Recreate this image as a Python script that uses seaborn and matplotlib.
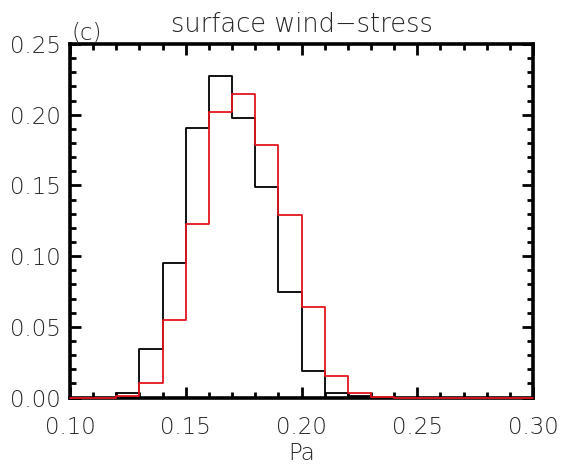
import numpy as np
import pandas as pd
import matplotlib
matplotlib.use("Agg")
import matplotlib.pyplot as plt
import seaborn as sns
from matplotlib.ticker import MultipleLocator

# Bin edges (Pa) and relative frequencies per 0.01 Pa bin
bin_edges = [round(0.10 + 0.01 * i, 2) for i in range(21)]
freq_black = [0.0, 0.0, 0.0033, 0.0346, 0.0951, 0.1904, 0.2274, 0.1977, 0.1487, 0.0746,
              0.0185, 0.0035, 0.0012, 0.0, 0.0, 0.0, 0.0, 0.0, 0.0, 0.0]
freq_red = [0.0, 0.0, 0.0010, 0.0103, 0.0546, 0.1229, 0.2017, 0.2147, 0.1787, 0.1292,
            0.0640, 0.0150, 0.0033, 0.0005, 0.0, 0.0, 0.0, 0.0, 0.0, 0.0]
x_ticks = [0.10, 0.15, 0.20, 0.25, 0.30]
y_ticks = [0.00, 0.05, 0.10, 0.15, 0.20, 0.25]

edges = np.array(bin_edges)
centers = (edges[:-1] + edges[1:]) / 2
df = pd.DataFrame({
    "Pa": np.concatenate([centers, centers]),
    "freq": np.concatenate([freq_black, freq_red]),
    "series": ["black"] * len(centers) + ["red"] * len(centers),
})

sns.set_style("ticks")
plt.rcParams["font.family"] = ["DejaVu Sans"]
plt.rcParams["font.weight"] = "light"
text_color = "#262626"

fig = plt.figure(figsize=(5.67, 4.65), dpi=100)
ax = fig.add_axes([70 / 567, 1 - 397.5 / 465, (533 - 70) / 567, (397.5 - 44) / 465])

for name, col in [("black", "black"), ("red", "#e3161e")]:
    sub = df[df["series"] == name]
    sns.histplot(data=sub, x="Pa", weights="freq", bins=bin_edges, element="step",
                 fill=False, color=col, linewidth=1.3, ax=ax, legend=False)

for ln in ax.lines:
    ln.set_zorder(4)
    ln.set_clip_on(False)

ax.set_xlim(0.10, 0.30)
ax.set_ylim(0.0, 0.25)
ax.set_xticks(x_ticks)
ax.set_yticks(y_ticks)
ax.set_xticklabels([f"{v:.2f}" for v in x_ticks])
ax.set_yticklabels([f"{v:.2f}" for v in y_ticks])
ax.xaxis.set_minor_locator(MultipleLocator(0.01))
ax.yaxis.set_minor_locator(MultipleLocator(0.01))

for s in ax.spines.values():
    s.set_visible(True)
    s.set_linewidth(2.6)
    s.set_color("black")

ax.tick_params(which="both", direction="in", top=True, right=True, colors="black",
               labelcolor=text_color, labelsize=16.5)
ax.tick_params(which="major", length=8, width=2)
ax.tick_params(which="minor", length=4, width=2)
ax.tick_params(axis="x", which="major", pad=13)
ax.tick_params(axis="y", which="major", pad=6.5)

ax.set_xlabel("Pa", fontsize=16.5, color=text_color, fontweight="light", labelpad=2.5)
ax.set_ylabel("")
ax.set_title("surface wind\u2212stress", fontsize=18.5, color=text_color,
             fontweight="light", pad=9)
ax.text(0.003, 1.0, "(c)", transform=ax.transAxes, ha="left", va="bottom",
        fontsize=16.5, color=text_color)

fig.savefig("out.png", dpi=100, facecolor="white")
